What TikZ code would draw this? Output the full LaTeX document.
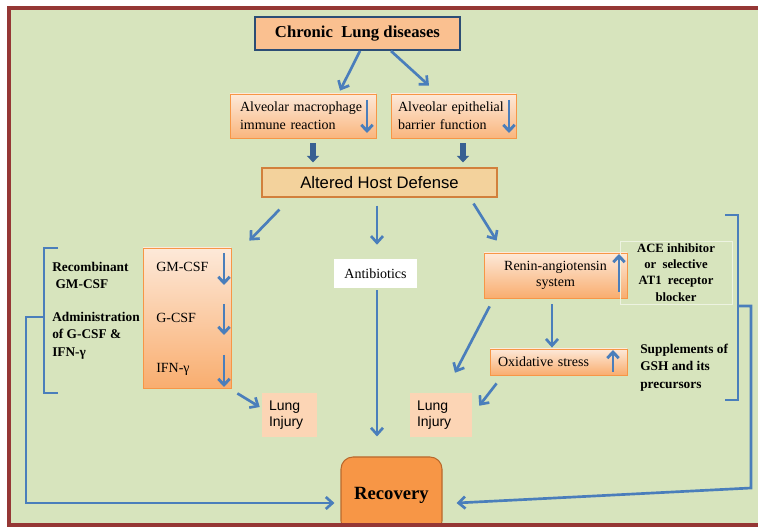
\documentclass[tikz,border=0pt]{standalone}
\usepackage{fontspec}
\setmainfont{Liberation Serif}
\newfontfamily\arialfont{Liberation Sans}
\usepackage{tikz}
\usetikzlibrary{arrows.meta}
\definecolor{BG}{HTML}{D7E4BD}
\definecolor{FRAME}{HTML}{953735}
\definecolor{ARR}{HTML}{4A7EBB}
\definecolor{DARR}{HTML}{376092}
\definecolor{NAVY}{HTML}{2C4D75}
\definecolor{PEACH}{HTML}{FAC090}
\definecolor{LPEACH}{HTML}{FDE9D9}
\definecolor{ORNG}{HTML}{F79646}
\definecolor{DORNG}{HTML}{B9682C}
\definecolor{PAPER}{HTML}{F3D29C}
\definecolor{INJ}{HTML}{FCD5B5}
\tikzset{
  HEAD/.style={% top box
      rectangle, line width=1.5pt,
      draw=NAVY, fill=PEACH,
      inner sep=0pt,
      font=\bfseries\fontsize{12.5}{14}\selectfont
  },
  GRAD/.style={% orange boxes with shading
      rectangle, line width=0.6pt,
      draw=ORNG,
      top color=LPEACH, bottom color=PEACH!75!ORNG,
      inner sep=0pt, align=left,
      font=\fontsize{10.5}{13.5}\selectfont
  },
  PAPERBOX/.style={
      rectangle, line width=0.8pt,
      draw=ORNG!85!black, fill=PAPER,
      inner sep=0pt,
      font=\arialfont\fontsize{12.5}{14}\selectfont
  },
  INJBOX/.style={
      rectangle, fill=INJ,
      inner sep=0pt, align=left,
      font=\arialfont\fontsize{10.5}{12}\selectfont
  },
  ANTI/.style={
      rectangle, fill=white,
      inner sep=0pt,
      font=\fontsize{10.5}{12}\selectfont
  },
  NOTE/.style={% thin framed note
      rectangle, draw=white!55!BG, line width=0.6pt,
      inner sep=0pt, align=center,
      font=\bfseries\fontsize{9.5}{12.2}\selectfont
  },
  TXT/.style={inner sep=0pt, font=\fontsize{10.5}{12}\selectfont},
  TXTB/.style={inner sep=0pt, align=left, font=\bfseries\fontsize{10}{13}\selectfont},
  REC/.style={
      rectangle, rounded corners=9pt,
      draw=DORNG, line width=0.8pt, fill=ORNG,
      inner sep=0pt,
      font=\bfseries\fontsize{14}{16}\selectfont
  },
  CONN/.style={draw=ARR, line width=2pt, -{Straight Barb[length=5pt,width=9pt]}},
  SMALL/.style={draw=ARR, line width=2.2pt, -{Straight Barb[length=4.5pt,width=8.5pt]}},
  THICK/.style={draw=DARR, line width=4.5pt, -{Triangle[length=5pt,width=9pt]}},
  BRK/.style={draw=ARR, line width=2pt}
}

\begin{document}
\begin{tikzpicture}[x=0.75pt, y=-0.75pt]
  \useasboundingbox (0,0) rectangle (758,527);
  \fill[BG] (9,8) rectangle (770,525);

  % boxes
  \node[HEAD, minimum width=153.75pt, minimum height=24.75pt] (chronic) at (357.5,33.5) {Chronic~~Lung diseases};
  \node[GRAD, minimum width=109.5pt, minimum height=33pt, text width=94.5pt] (mac) at (303,116) {Alveolar macrophage\\immune reaction};
  \node[GRAD, minimum width=93.75pt, minimum height=33pt, text width=83.25pt] (epi) at (453.5,116) {Alveolar epithelial\\barrier function};
  \node[PAPERBOX, minimum width=176.25pt, minimum height=21.75pt] (host) at (379.5,182.5) {Altered Host Defense};
  \node[GRAD, minimum width=66pt, minimum height=105pt, bottom color=PEACH!55!ORNG] (csf) at (187,318) {};
  \node[TXT, anchor=west] (gm) at (156,267) {GM-CSF};
  \node[TXT, anchor=west] (g) at (156,318) {G-CSF};
  \node[TXT, anchor=west] (ifn) at (156,369) {IFN-γ};
  \node[INJBOX, minimum width=41.25pt, minimum height=33pt, text width=30.75pt] (inj1) at (289.5,415) {Lung\\Injury};
  \node[ANTI, minimum width=62.25pt, minimum height=21.75pt] (anti) at (375.5,273.5) {Antibiotics};
  \node[GRAD, align=center, minimum width=107.25pt, minimum height=33.75pt, bottom color=PEACH!55!ORNG, font=\fontsize{10.5}{12}\selectfont] (renin) at (555.5,275.5) {Renin-angiotensin\\system};
  \node[NOTE, minimum width=84pt, minimum height=47.25pt] (ace) at (676,272.5) {ACE inhibitor\\or~ selective\\AT1~ receptor\\blocker};
  \node[GRAD, minimum width=102.75pt, minimum height=19.5pt, text width=90.75pt, bottom color=PEACH!55!ORNG] (oxid) at (558.5,362) {Oxidative stress};
  \node[INJBOX, minimum width=46.5pt, minimum height=33pt, text width=36pt] (inj2) at (441,415) {Lung\\Injury};
  \node[REC, minimum width=75.75pt, minimum height=57pt] (rec) at (391.5,495) {Recovery};

  % side texts
  \node[TXTB, anchor=west] (recomb) at (52,275.5) {Recombinant\\\ GM-CSF};
  \node[TXTB, anchor=west] (admin) at (52,335.5) {Administration\\of G-CSF \&\\IFN-γ};
  \node[TXTB, anchor=west] (supp) at (640,367.5) {Supplements of\\GSH and its\\precursors};

  % arrows inside the boxes
  \draw[SMALL] ([shift={(64,-16)}]mac.center) -- ([shift={(64,17)}]mac.center);
  \draw[SMALL] ([shift={(55.5,-16)}]epi.center) -- ([shift={(55.5,17)}]epi.center);
  \draw[SMALL] ([shift={(68,-14)}]gm.west) -- ([shift={(68,18)}]gm.west);
  \draw[SMALL] ([shift={(68,-14)}]g.west) -- ([shift={(68,17)}]g.west);
  \draw[SMALL] ([shift={(68,-14)}]ifn.west) -- ([shift={(68,18)}]ifn.west);
  \draw[SMALL] ([shift={(63.5,16.5)}]renin.center) -- ([shift={(63.5,-21.5)}]renin.center);
  \draw[SMALL] ([shift={(54.5,10)}]oxid.center) -- ([shift={(54.5,-12)}]oxid.center);

  % connectors
  \draw[CONN] ([shift={(2.5,0)}]chronic.south) -- ([shift={(37,-3)}]mac.north);
  \draw[CONN] ([shift={(33.5,0)}]chronic.south) -- ([shift={(-24.5,-8)}]epi.north);
  \draw[THICK] ([shift={(10,5)}]mac.south) -- ([shift={(-66.5,-5)}]host.north);
  \draw[THICK] ([shift={(9.5,5)}]epi.south) -- ([shift={(83.5,-5)}]host.north);
  \draw[CONN] ([shift={(18,12)}]host.south west) -- ([shift={(18,-7)}]csf.north east);
  \draw[CONN] ([shift={(-2.5,8)}]host.south) -- ([shift={(1.5,-14)}]anti.north);
  \draw[CONN] ([shift={(-24,6)}]host.south east) -- ([shift={(13,-12)}]renin.north west);
  \draw[CONN] ([shift={(1.5,2)}]anti.south) -- ([shift={(-14.5,-20)}]rec.north);
  \draw[CONN] ([shift={(6,5)}]csf.south east) -- ([shift={(-2,-8)}]inj1.west);
  \draw[CONN] ([shift={(6,8)}]renin.south west) -- ([shift={(14,-20)}]inj2.north);
  \draw[CONN] ([shift={(-3.5,6)}]renin.south) -- ([shift={(-6.5,-1)}]oxid.north);
  \draw[CONN] ([shift={(7,8)}]oxid.south west) -- ([shift={(7,13)}]inj2.north east);

  % brackets
  \coordinate (lb1) at (58,248);
  \coordinate (lb2) at (44,248);
  \coordinate (lb3) at (44,393);
  \coordinate (lb4) at (58,393);
  \coordinate (lbm) at (44,317);
  \coordinate (lbo) at (26,317);
  \coordinate (lbd) at (26,503);
  \draw[BRK] (lb1) -- (lb2) -- (lb3) -- (lb4);
  \draw[CONN] (lbm) -- (lbo) -- (lbd) -- ([shift={(-6,8)}]rec.west);
  \coordinate (rb1) at (725,215);
  \coordinate (rb2) at (738,215);
  \coordinate (rb3) at (738,400);
  \coordinate (rb4) at (725,400);
  \coordinate (rbm) at (738,306);
  \coordinate (rbo) at (751,306);
  \coordinate (rbd) at (751,488);
  \draw[BRK] (rb1) -- (rb2) -- (rb3) -- (rb4);
  \draw[CONN] (rbm) -- (rbo) -- (rbd) -- ([shift={(14,8)}]rec.east);

  \draw[FRAME, line width=2.6pt] (9,8) rectangle (770,525);
\end{tikzpicture}
\end{document}
